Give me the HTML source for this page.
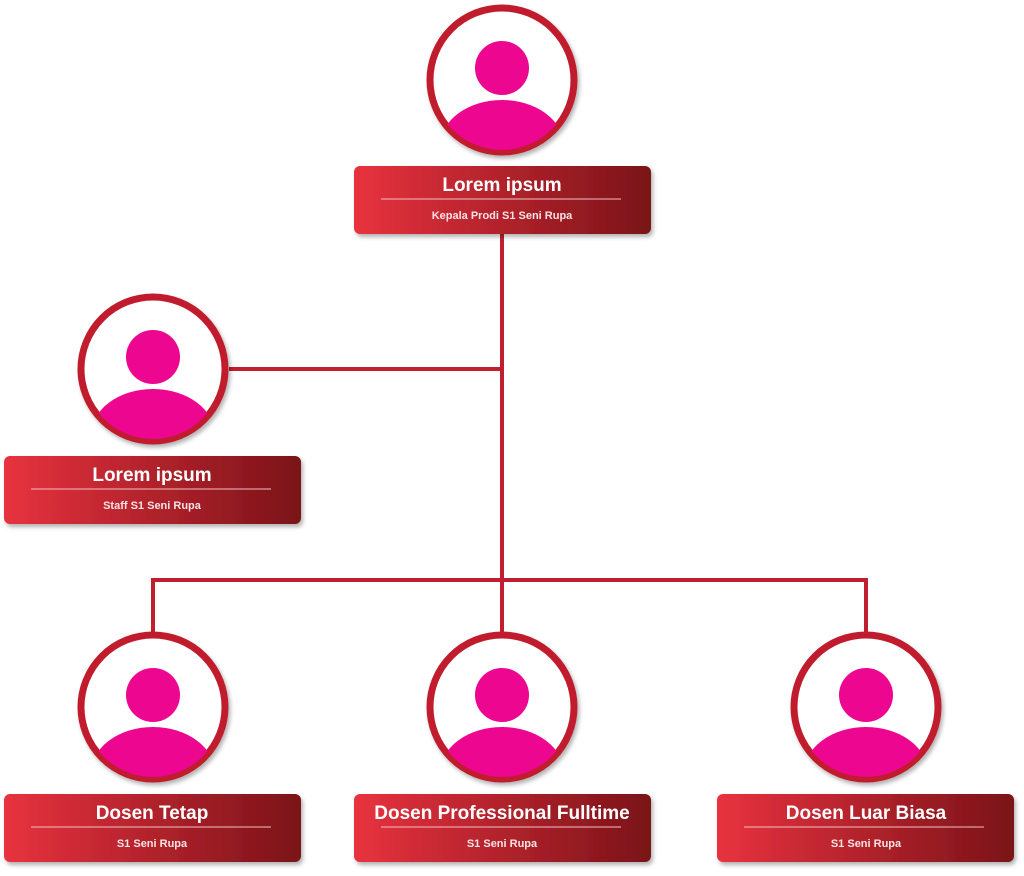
<!DOCTYPE html>
<html><head><meta charset="utf-8"><style>
body{margin:0;background:#fff;width:1024px;height:871px;overflow:hidden;font-family:"Liberation Sans",sans-serif}
text{font-family:"Liberation Sans",sans-serif;font-weight:bold}
</style></head><body>
<svg width="1024" height="871" viewBox="0 0 1024 871" xmlns="http://www.w3.org/2000/svg">
<defs>
<linearGradient id="g" x1="0" x2="1" y1="0" y2="0"><stop offset="0" stop-color="#e8323f"/><stop offset="1" stop-color="#7a1318"/></linearGradient>
<filter id="s" x="-10%" y="-10%" width="130%" height="140%"><feDropShadow dx="2" dy="3" stdDeviation="2" flood-color="#000" flood-opacity="0.3"/></filter>
<clipPath id="c0"><circle cx="502" cy="80" r="70"/></clipPath>
<clipPath id="c1"><circle cx="153" cy="369" r="70"/></clipPath>
<clipPath id="c2"><circle cx="153" cy="707" r="70"/></clipPath>
<clipPath id="c3"><circle cx="502" cy="707" r="70"/></clipPath>
<clipPath id="c4"><circle cx="866" cy="707" r="70"/></clipPath>
</defs>
<g stroke="#c01f2f" stroke-width="4" fill="none">
<line x1="502" y1="234" x2="502" y2="634"/>
<line x1="229" y1="369" x2="502" y2="369"/>
<polyline points="153,634 153,580 866,580 866,634"/>
</g>

<circle cx="502" cy="80" r="72" fill="#fff" stroke="#c01f2f" stroke-width="7" filter="url(#s)"/>
<circle cx="502" cy="68" r="27" fill="#ec0690"/>
<ellipse cx="502" cy="146" rx="62" ry="46" fill="#ec0690" clip-path="url(#c0)"/>
<rect x="354" y="166" width="297" height="68" rx="6" fill="url(#g)" filter="url(#s)"/>
<text x="502" y="191" text-anchor="middle" fill="#fff" font-size="19">Lorem ipsum</text>
<line x1="381" y1="199" x2="621" y2="199" stroke="#f2c0c0" stroke-width="1"/>
<text x="502" y="219" text-anchor="middle" fill="#fbe3e3" font-size="11">Kepala Prodi S1 Seni Rupa</text>

<circle cx="153" cy="369" r="72" fill="#fff" stroke="#c01f2f" stroke-width="7" filter="url(#s)"/>
<circle cx="153" cy="357" r="27" fill="#ec0690"/>
<ellipse cx="153" cy="435" rx="62" ry="46" fill="#ec0690" clip-path="url(#c1)"/>
<rect x="4" y="456" width="297" height="68" rx="6" fill="url(#g)" filter="url(#s)"/>
<text x="152" y="481" text-anchor="middle" fill="#fff" font-size="19">Lorem ipsum</text>
<line x1="31" y1="489" x2="271" y2="489" stroke="#f2c0c0" stroke-width="1"/>
<text x="152" y="509" text-anchor="middle" fill="#fbe3e3" font-size="11">Staff S1 Seni Rupa</text>

<circle cx="153" cy="707" r="72" fill="#fff" stroke="#c01f2f" stroke-width="7" filter="url(#s)"/>
<circle cx="153" cy="695" r="27" fill="#ec0690"/>
<ellipse cx="153" cy="773" rx="62" ry="46" fill="#ec0690" clip-path="url(#c2)"/>
<rect x="4" y="794" width="297" height="68" rx="6" fill="url(#g)" filter="url(#s)"/>
<text x="152" y="819" text-anchor="middle" fill="#fff" font-size="19">Dosen Tetap</text>
<line x1="31" y1="827" x2="271" y2="827" stroke="#f2c0c0" stroke-width="1"/>
<text x="152" y="847" text-anchor="middle" fill="#fbe3e3" font-size="11">S1 Seni Rupa</text>

<circle cx="502" cy="707" r="72" fill="#fff" stroke="#c01f2f" stroke-width="7" filter="url(#s)"/>
<circle cx="502" cy="695" r="27" fill="#ec0690"/>
<ellipse cx="502" cy="773" rx="62" ry="46" fill="#ec0690" clip-path="url(#c3)"/>
<rect x="354" y="794" width="297" height="68" rx="6" fill="url(#g)" filter="url(#s)"/>
<text x="502" y="819" text-anchor="middle" fill="#fff" font-size="19">Dosen Professional Fulltime</text>
<line x1="381" y1="827" x2="621" y2="827" stroke="#f2c0c0" stroke-width="1"/>
<text x="502" y="847" text-anchor="middle" fill="#fbe3e3" font-size="11">S1 Seni Rupa</text>

<circle cx="866" cy="707" r="72" fill="#fff" stroke="#c01f2f" stroke-width="7" filter="url(#s)"/>
<circle cx="866" cy="695" r="27" fill="#ec0690"/>
<ellipse cx="866" cy="773" rx="62" ry="46" fill="#ec0690" clip-path="url(#c4)"/>
<rect x="717" y="794" width="297" height="68" rx="6" fill="url(#g)" filter="url(#s)"/>
<text x="866" y="819" text-anchor="middle" fill="#fff" font-size="19">Dosen Luar Biasa</text>
<line x1="744" y1="827" x2="984" y2="827" stroke="#f2c0c0" stroke-width="1"/>
<text x="866" y="847" text-anchor="middle" fill="#fbe3e3" font-size="11">S1 Seni Rupa</text>
</svg>
</body></html>
